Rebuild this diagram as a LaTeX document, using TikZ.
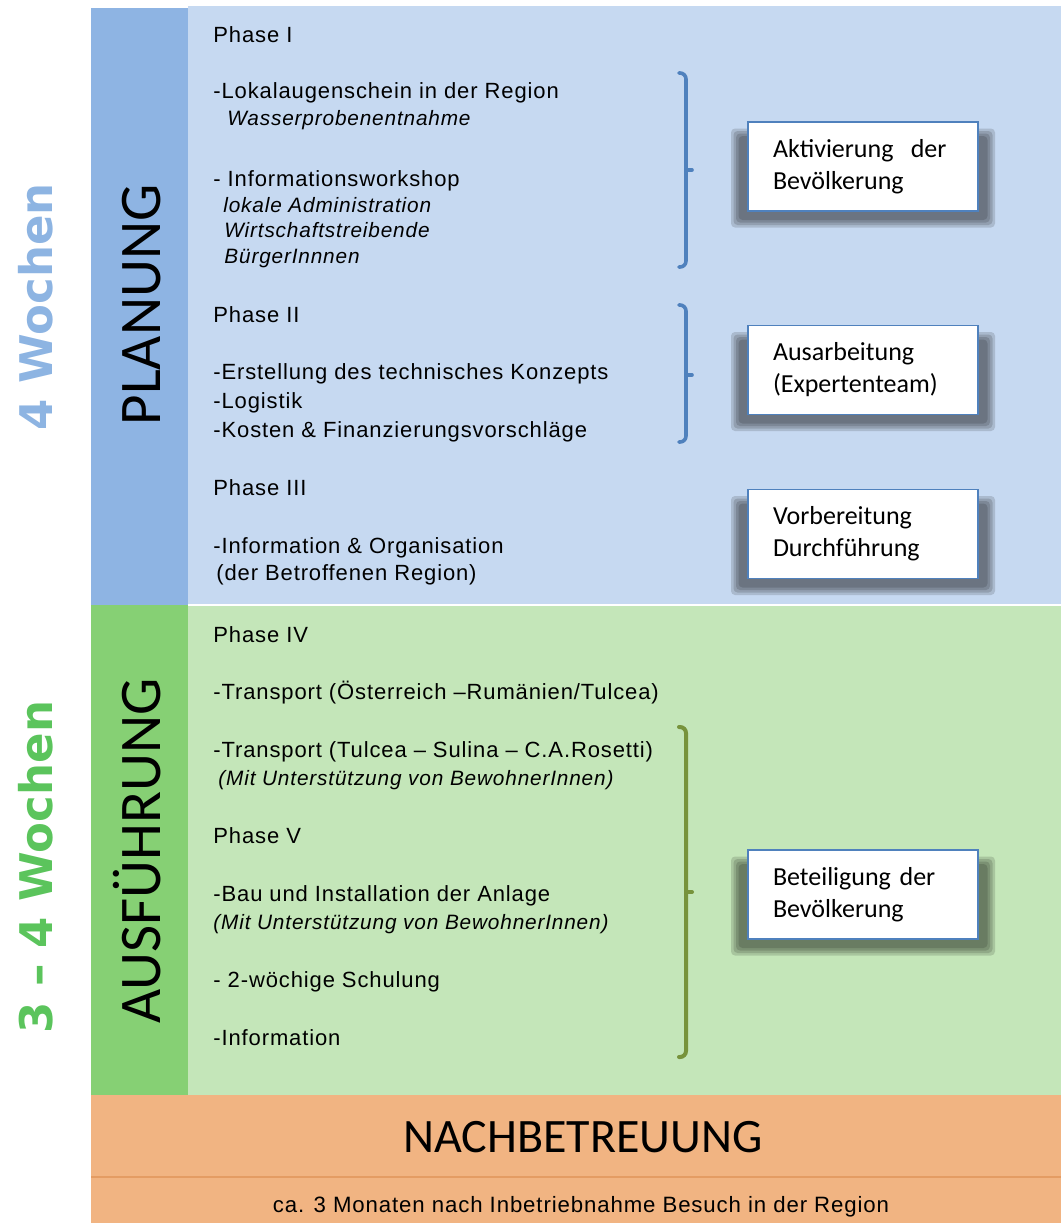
\documentclass[tikz,border=0pt]{standalone}
\usepackage{fontspec}
\setmainfont{Liberation Sans}[LetterSpace=4]
\newfontfamily\cboxfont{Carlito}
\newfontfamily\weekfont{DejaVu Sans}
\usetikzlibrary{positioning}
\definecolor{planblue}{HTML}{8EB4E3}
\definecolor{planlight}{HTML}{C6D9F1}
\definecolor{execgreen}{HTML}{86D074}
\definecolor{execlight}{HTML}{C4E6B9}
\definecolor{careorange}{HTML}{F1B482}
\definecolor{careline}{HTML}{E49C63}
\definecolor{braceblue}{HTML}{4F81BD}
\definecolor{bracegreen}{HTML}{77933C}
\definecolor{weekblue}{HTML}{8DB4E2}
\definecolor{weekgreen}{HTML}{5BC45C}
% soft shadow below a box, #1/#2 = box centre
\newcommand{\boxshadow}[2]{%
    \foreach \k in {0,...,3}{
        \fill[black, opacity=0.14, rounded corners=2pt]
            ({#1-132+2.5*\k},{#2-38+2.5*\k}) rectangle ({#1+132-2.5*\k},{#2+61-2.5*\k});
    }}

\begin{document}
\begin{tikzpicture}[x=0.5pt, y=-0.5pt,
        line/.style={anchor=base west, inner sep=0pt, font=\fontsize{11}{12}\selectfont},
        sub/.style={line, font=\fontsize{10.4}{12}\selectfont\itshape},
        box/.style={draw=braceblue, line width=0.8pt, fill=white, minimum width=115pt, minimum height=44.5pt,
            text width=90pt, inner xsep=12.5pt, align=left, font=\cboxfont\fontsize{13}{16}\selectfont},
        bracket/.style={line width=1.8pt, rounded corners=3pt, line cap=round},
        title/.style={rotate=90, anchor=base, inner sep=0pt, font=\cboxfont\fontsize{29.5}{30}\selectfont},
        weeks/.style={rotate=90, anchor=base, inner sep=0pt, font=\weekfont\bfseries\fontsize{22.5}{24}\selectfont},
    ]
        \useasboundingbox (0,0) rectangle (1061,1223);

        % bands
        \fill[planlight] (188,6) rectangle (1061,605);
        \fill[planblue] (91,8) rectangle (188,605);
        \fill[execlight] (188,605) rectangle (1061,1095);
        \fill[execgreen] (91,605) rectangle (188,1095);
        \fill[careorange] (91,1095) rectangle (1061,1223);
        \draw[white, line width=0.7pt] (188,605) -- (1061,605);
        \draw[careline, line width=0.8pt] (91,1177) -- (1061,1177);

        % side labels
        \node[weeks, weekblue] (wplan) at (53,307) {4 Wochen};
        \node[weeks, weekgreen] (wexec) at (53,867) {3 – 4 Wochen};
        \node[title] (plan) at (160,305) {PLANUNG};
        \node[title] (exec) at (160,851) {AUSFÜHRUNG};

        % phase I - III
        \node[line] (ph1) at (213,42) {Phase I};
        \node[line] (ph1a) at (213,98) {-Lokalaugenschein in der Region};
        \node[sub] (ph1b) at (227,125) {Wasserprobenentnahme};
        \node[line] (ph1c) at (213,186) {- Informationsworkshop};
        \node[sub] (ph1d) at (223,212) {lokale Administration};
        \node[sub] (ph1e) at (224,237) {Wirtschaftstreibende};
        \node[sub] (ph1f) at (224,263) {BürgerInnnen};
        \node[line] (ph2) at (213,322) {Phase II};
        \node[line] (ph2a) at (213,379) {-Erstellung des technisches Konzepts};
        \node[line] (ph2b) at (213,408) {-Logistik};
        \node[line] (ph2c) at (213,437) {-Kosten \& Finanzierungsvorschläge};
        \node[line] (ph3) at (213,495) {Phase III};
        \node[line] (ph3a) at (213,553) {-Information \& Organisation};
        \node[line] (ph3b) at (216,580) {(der Betroffenen Region)};

        % phase IV - V
        \node[line] (ph4) at (213,642) {Phase IV};
        \node[line] (ph4a) at (213,699) {-Transport (Österreich –Rumänien/Tulcea)};
        \node[line] (ph4b) at (213,757) {-Transport (Tulcea – Sulina – C.A.Rosetti)};
        \node[sub] (ph4c) at (218,785) {(Mit Unterstützung von BewohnerInnen)};
        \node[line] (ph5) at (213,843) {Phase V};
        \node[line] (ph5a) at (213,901) {-Bau und Installation der Anlage};
        \node[sub] (ph5b) at (213,929) {(Mit Unterstützung von BewohnerInnen)};
        \node[line] (ph5c) at (213,987) {- 2-wöchige Schulung};
        \node[line] (ph5d) at (213,1045) {-Information};

        % braces
        \coordinate (br1top) at (686,73);
        \coordinate (br1tip) at (686,170);
        \coordinate (br1bot) at (686,267);
        \coordinate (br2top) at (686,305);
        \coordinate (br2tip) at (686,375);
        \coordinate (br2bot) at (686,442);
        \coordinate (br3top) at (686,727);
        \coordinate (br3tip) at (686,892);
        \coordinate (br3bot) at (686,1057);
        \draw[bracket, braceblue] ([xshift=-3.5pt]br1top) -- (br1top) -- (br1bot) -- ([xshift=-3.5pt]br1bot);
        \draw[bracket, braceblue] (br1tip) -- ([xshift=3pt]br1tip);
        \draw[bracket, braceblue] ([xshift=-3.5pt]br2top) -- (br2top) -- (br2bot) -- ([xshift=-3.5pt]br2bot);
        \draw[bracket, braceblue] (br2tip) -- ([xshift=3pt]br2tip);
        \draw[bracket, bracegreen, line width=2pt] ([xshift=-3.5pt]br3top) -- (br3top) -- (br3bot) -- ([xshift=-3.5pt]br3bot);
        \draw[bracket, bracegreen, line width=2pt] (br3tip) -- ([xshift=3pt]br3tip);

        % result boxes
        \boxshadow{863}{166.5}
        \boxshadow{863}{370}
        \boxshadow{863}{534}
        \boxshadow{863}{894.5}
        \node[box] (activ) at (863,166.5) {Aktivierung~ der\\Bevölkerung};
        \node[box] (expert) at (863,370) {Ausarbeitung\\(Expertenteam)};
        \node[box] (prep) at (863,534) {Vorbereitung\\Durchführung};
        \node[box] (part) at (863,894.5) {Beteiligung der\\Bevölkerung};

        % aftercare
        \node[anchor=base, inner sep=0pt, font=\cboxfont\fontsize{24}{26}\selectfont] (care) at (583,1152) {NACHBETREUUNG};
        \node[anchor=base, inner sep=0pt, font=\fontsize{11.1}{12}\selectfont] (visit) at (581,1212)
            {ca. 3 Monaten nach Inbetriebnahme Besuch in der Region};
    \end{tikzpicture}
\end{document}
